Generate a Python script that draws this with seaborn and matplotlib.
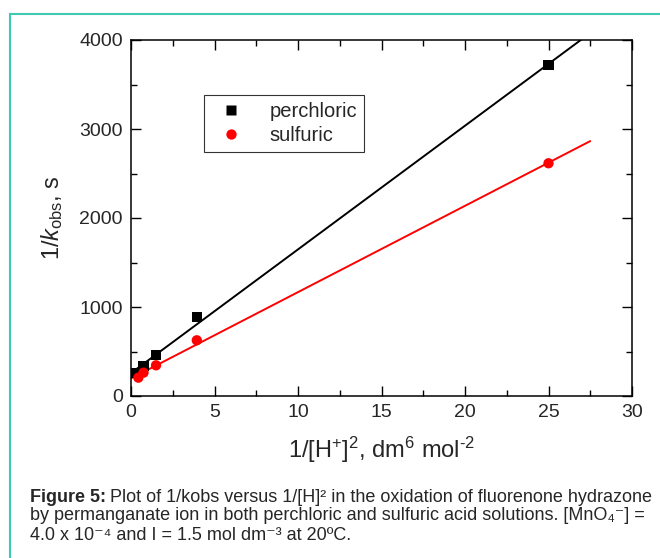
import numpy as np
import pandas as pd
import seaborn as sns
import matplotlib.pyplot as plt
from matplotlib.patches import Rectangle
from matplotlib.ticker import MultipleLocator

sns.set_style("ticks")
plt.rcParams["font.family"] = ["Liberation Sans", "DejaVu Sans"]
plt.rcParams["mathtext.fontset"] = "custom"
plt.rcParams["mathtext.rm"] = "Liberation Sans"
plt.rcParams["mathtext.it"] = "Liberation Sans:italic"
plt.rcParams["mathtext.bf"] = "Liberation Sans:bold"

# data
inv_h2_perchloric = [0.33, 0.75, 1.5, 3.94, 25.0]
inv_kobs_perchloric = [262, 337, 461, 888, 3720]
inv_h2_sulfuric = [0.44, 0.75, 1.5, 3.94, 25.0]
inv_kobs_sulfuric = [206, 262, 345, 626, 2615]
fit_xmax = 27.5

df = pd.concat([
    pd.DataFrame({"x": inv_h2_perchloric, "y": inv_kobs_perchloric, "acid": "perchloric"}),
    pd.DataFrame({"x": inv_h2_sulfuric, "y": inv_kobs_sulfuric, "acid": "sulfuric"}),
])
colors = {"perchloric": "black", "sulfuric": "#ff0000"}
markers = {"perchloric": "s", "sulfuric": "o"}

fig = plt.figure(figsize=(6.6, 5.58), dpi=100)
W, H = 660, 558
ax = fig.add_axes([131 / W, 1 - 396 / H, (632 - 131) / W, (396 - 40) / H])

# fitted lines
for acid in ["perchloric", "sulfuric"]:
    sub = df[df.acid == acid]
    k, b = np.polyfit(sub.x, sub.y, 1)
    xs = np.array([0, fit_xmax])
    sns.lineplot(x=xs, y=k * xs + b, color=colors[acid], lw=1.4, ax=ax,
                 legend=False)

sns.scatterplot(data=df, x="x", y="y", hue="acid", style="acid",
                palette=colors, markers=markers, s=55, edgecolor="none",
                ax=ax, zorder=3)

ax.set_xlim(0, 30)
ax.set_ylim(0, 4000)
ax.xaxis.set_major_locator(MultipleLocator(5))
ax.xaxis.set_minor_locator(MultipleLocator(2.5))
ax.yaxis.set_major_locator(MultipleLocator(1000))
ax.yaxis.set_minor_locator(MultipleLocator(500))
ax.tick_params(which="both", direction="in", top=True, right=True,
               labelsize=14, width=1, color="black", pad=6)
ax.tick_params(which="major", length=7)
ax.tick_params(which="minor", length=4)
for s in ax.spines.values():
    s.set_linewidth(1.1)
    s.set_color("black")

ax.set_xlabel(r"1/[H$^{+}$]$^{2}$, dm$^{6}$ mol$^{\mathrm{\text{-}}2}$", fontsize=17, labelpad=10)
ax.set_ylabel(r"1/$k_{\rm obs}$, s", fontsize=17, labelpad=10)

leg = ax.legend(title=None, loc="upper left", bbox_to_anchor=(0.146, 0.846),
                fontsize=14.5, frameon=True, fancybox=False, borderpad=0.35,
                handletextpad=0.9, labelspacing=0.25, borderaxespad=0)
leg.get_frame().set_edgecolor("black")
leg.get_frame().set_linewidth(0.8)

# teal frame around the figure
fig.patches.append(Rectangle((10.5 / W, -0.1), 1.2, 1 - 14 / H + 0.1,
                             transform=fig.transFigure, fill=False,
                             edgecolor="#3fc9b3", lw=1.5))

# caption
cap_fs = 13
r = fig.canvas.get_renderer()
t = fig.text(30 / W, 1 - 497 / H, "Figure 5:", fontsize=cap_fs,
             fontweight="bold", va="center")
bb = t.get_window_extent(renderer=r)
fig.text(bb.x1 / W + 4 / W, 1 - 497 / H,
         "Plot of 1/kobs versus 1/[H]\u00b2 in the oxidation of fluorenone hydrazone",
         fontsize=cap_fs, va="center")
fig.text(30 / W, 1 - 516 / H,
         "by permanganate ion in both perchloric and sulfuric acid solutions. [MnO\u2084\u207b] =",
         fontsize=cap_fs, va="center")
fig.text(30 / W, 1 - 536 / H,
         "4.0 x 10\u207b\u2074 and I = 1.5 mol dm\u207b\u00b3 at 20\u00baC.",
         fontsize=cap_fs, va="center")

fig.savefig("out.png", dpi=100)
